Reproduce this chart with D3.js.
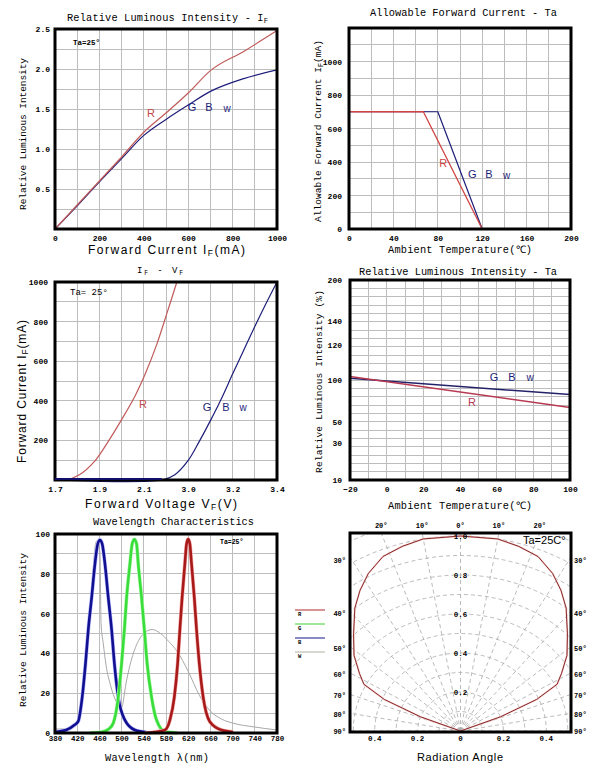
<!DOCTYPE html>
<html><head><meta charset="utf-8">
<script src="https://cdn.jsdelivr.net/npm/d3@7"></script>
<style>body{margin:0;background:#fff}svg{display:block}</style>
</head><body>
<svg id="c" width="596" height="771"></svg>
<script>
// ---------------- DATA ----------------
// Panel 1: Relative Luminous Intensity - IF
const p1Current = [0, 100, 200, 300, 400, 500, 600, 700, 850, 1000];
const p1R       = [0, 0.30, 0.60, 0.90, 1.21, 1.45, 1.70, 1.98, 2.22, 2.48];
const p1GBW     = [0, 0.29, 0.59, 0.88, 1.17, 1.37, 1.55, 1.72, 1.88, 1.99];
const p1XTicks  = [0, 200, 400, 600, 800, 1000];
const p1YTicks  = [0.5, 1.0, 1.5, 2.0, 2.5];

// Panel 2: Allowable Forward Current - Ta
const p2TempR   = [0, 67, 120];
const p2CurR    = [700, 700, 0];
const p2TempGBW = [0, 80, 120];
const p2CurGBW  = [700, 700, 0];
const p2XTicks  = [0, 40, 80, 120, 160, 200];
const p2YTicks  = [0, 200, 400, 600, 800, 1000];

// Panel 3: IF - VF (split voltage axis)
const p3VoltR   = [1.70, 1.745, 1.81, 1.88, 1.94, 2.00, 2.06, 2.11, 2.16, 2.205, 2.249];
const p3CurR    = [0, 0, 27, 97, 195, 305, 423, 545, 690, 845, 1000];
const p3VoltGBW = [2.40, 2.881, 2.94, 3.00, 3.05, 3.10, 3.15, 3.20, 3.25, 3.30, 3.35, 3.40];
const p3CurGBW  = [0, 0, 27, 99, 195, 300, 412, 535, 655, 775, 890, 1000];
const p3XTicksR   = [1.7, 1.9, 2.1];
const p3XTicksGBW = [3.0, 3.2, 3.4];
const p3YTicks  = [200, 400, 600, 800, 1000];

// Panel 4: Relative Luminous Intensity - Ta
const p4Temp    = [-20, 100];
const p4R       = [102, 67];
const p4GBW     = [101, 82.5];
const p4XTicks  = [-20, 0, 20, 40, 60, 80, 100];
const p4YTicks  = [10, 30, 50, 100, 120, 140, 200];

// Panel 5: Wavelength Characteristics
const p5BlueNm  = [380,400,415,422,429,435,440,446,452,457,461,465,470,476,482,487,494,506,524,545];
const p5Blue    = [0.5,1.5,4,6,18,35,52,68,85,95,97,95,85,68,52,35,18,6.5,1.5,0.3];
const p5GreenNm = [443,464,477,485,494,500,505,509,515,519,523,527,530,536,541,546,554,563,578,600];
const p5Green   = [0,0.5,2,5,18,35,52,68,85,95,97.3,95,85,68,52,35,18,6.5,0.7,0];
const p5RedNm   = [542,560,578,587,595,601,605,609,614,617,620,623,626,631,635,640,647,659,680,701];
const p5Red     = [0,0.5,1.5,6.5,18,35,52,68,85,95,97.5,95,85,68,52,35,18,5.7,1.5,0.5];
const p5WhiteNm = [380,400,420,430,440,448,454,458,461,463,467,472,480,490,500,508,515,525,540,555,570,585,600,620,640,660,680,700,740,780];
const p5White   = [2,2,5,18,50,80,96,97,90,55,45,34,24,16,13,25,34,43,50,52,50,46,41,31,19,11,7,5,3,1.5];
const p5XTicks  = [380,420,460,500,540,580,620,660,700,740,780];
const p5YTicks  = [0,20,40,60,80,100];
const p5Legend  = ["R","G","B","W"];

// Panel 6: Radiation pattern (half, mirrored)
const p6Angle   = [0,10,16,22,28,33,38,45,52,58,62,65.5,68.7,90];
const p6Rel     = [1.0,1.0,0.985,0.965,0.915,0.86,0.8,0.705,0.63,0.555,0.51,0.39,0.2,0];
const p6AngleTicks  = [0,10,20,30,40,50,60,70,80,90];
const p6RadTicks    = [0.2,0.4,0.6,0.8,1.0];
const p6BottomTicks = [-0.4,-0.2,0,0.2,0.4];

// ---------------- DRAW ----------------
const MONO = '"Liberation Mono","DejaVu Sans Mono",monospace';
const SANS = '"Liberation Sans",Arial,sans-serif';
const svg = d3.select('#c');
const GRID = '#bdbdbd';
const RED_L = '#c04848', NAVY = '#1e1e7a';

function txt(g, x, y, parts, o = {}) {
  const size = o.size || 10;
  const t = g.append('text').attr('x', x).attr('y', y)
    .attr('font-family', o.font || MONO).attr('font-size', size)
    .attr('fill', o.fill || '#000').attr('text-anchor', o.anchor || 'middle');
  if (o.weight) t.attr('font-weight', o.weight);
  if (o.len) t.attr('textLength', o.len).attr('lengthAdjust', o.adj || 'spacing');
  if (o.rotate) t.attr('transform', `rotate(-90,${x},${y})`);
  if (typeof parts === 'string') parts = [{ t: parts }];
  let shift = 0;
  parts.forEach(p => {
    const s = t.append('tspan').text(p.t);
    if (p.sub) { s.attr('font-size', size * 0.7).attr('dy', 2 - shift); shift = 2; }
    else if (shift) { s.attr('dy', -shift); shift = 0; }
  });
  return t;
}
function grid(g, xs, ys, x0, x1, y0, y1) {
  g.selectAll(null).data(xs).enter().append('line')
    .attr('x1', d => d).attr('x2', d => d).attr('y1', y0).attr('y2', y1)
    .attr('stroke', GRID).attr('stroke-width', 1).attr('shape-rendering', 'crispEdges');
  g.selectAll(null).data(ys).enter().append('line')
    .attr('y1', d => d).attr('y2', d => d).attr('x1', x0).attr('x2', x1)
    .attr('stroke', GRID).attr('stroke-width', 1).attr('shape-rendering', 'crispEdges');
}
function frame(g, x0, y0, x1, y1) {
  g.append('rect').attr('x', x0).attr('y', y0).attr('width', x1 - x0).attr('height', y1 - y0)
    .attr('fill', 'none').attr('stroke', '#000').attr('stroke-width', 3);
}
function styleAxis(a, size) {
  a.select('.domain').remove();
  a.selectAll('text').attr('font-family', MONO).attr('font-size', size || 8)
    .attr('font-weight', 'bold').attr('fill', '#000');
}
function path(g, xs, ys, sx, sy, color, w, curve) {
  const pts = xs.map((v, i) => [v, ys[i]]);
  g.append('path').datum(pts)
    .attr('d', d3.line().x(d => sx(d[0])).y(d => sy(d[1])).curve(curve || d3.curveLinear))
    .attr('fill', 'none').attr('stroke', color).attr('stroke-width', w)
    .attr('stroke-linejoin', 'round');
}

// ===== Panel 1 =====
{
  const g = svg.append('g');
  const X0 = 55, X1 = 277, Y0 = 29, Y1 = 229;
  const x = d3.scaleLinear([0, 1000], [X0, X1]);
  const y = d3.scaleLinear([0, 2.5], [Y1, Y0]);
  grid(g, d3.range(100, 1000, 100).map(x), d3.range(0.25, 2.5, 0.25).map(y), X0, X1, Y0, Y1);
  path(g, p1Current, p1GBW, x, y, NAVY, 1.2, d3.curveMonotoneX);
  path(g, p1Current, p1R, x, y, '#c05a5a', 1.2, d3.curveMonotoneX);
  frame(g, X0, Y0, X1, Y1);
  styleAxis(g.append('g').attr('transform', `translate(${X0},0)`)
    .call(d3.axisLeft(y).tickValues(p1YTicks).tickFormat(d3.format('.1f')).tickSize(0).tickPadding(5)));
  styleAxis(g.append('g').attr('transform', `translate(0,${Y1})`)
    .call(d3.axisBottom(x).tickValues(p1XTicks).tickFormat(d3.format('d')).tickSize(0).tickPadding(6)));
  txt(g, 167.5, 21, [{ t: 'Relative Luminous Intensity - I' }, { t: 'F', sub: true }], { size: 10.3, len: 201 });
  txt(g, 166.5, 254, [{ t: 'Forward Current I' }, { t: 'F', sub: true }, { t: '(mA)' }], { font: SANS, size: 12, len: 157 });
  txt(g, 26, 134, 'Relative Luminous Intensity', { size: 9.5, len: 152, rotate: true });
  txt(g, 73, 45, 'Ta=25°', { size: 7.5, weight: 'bold', anchor: 'start' });
  txt(g, x(432), y(1.40), 'R', { font: SANS, size: 11, fill: RED_L });
  txt(g, x(617), y(1.48), 'G', { font: SANS, size: 11, fill: NAVY });
  txt(g, x(693), y(1.48), 'B', { font: SANS, size: 11, fill: NAVY });
  txt(g, x(775), y(1.46), 'w', { font: SANS, size: 10, fill: NAVY });
}

// ===== Panel 2 =====
{
  const g = svg.append('g');
  const X0 = 349, X1 = 571, Y0 = 28, Y1 = 229;
  const x = d3.scaleLinear([0, 200], [X0, X1]);
  const y = d3.scaleLinear([0, 1200], [Y1, Y0]);
  grid(g, d3.range(20, 200, 20).map(x), d3.range(100, 1200, 100).map(y), X0, X1, Y0, Y1);
  path(g, p2TempGBW, p2CurGBW, x, y, NAVY, 1.2);
  path(g, p2TempR, p2CurR, x, y, '#d04444', 1.3);
  frame(g, X0, Y0, X1, Y1);
  styleAxis(g.append('g').attr('transform', `translate(${X0},0)`)
    .call(d3.axisLeft(y).tickValues(p2YTicks).tickFormat(d3.format('d')).tickSize(0).tickPadding(7)));
  styleAxis(g.append('g').attr('transform', `translate(0,${Y1})`)
    .call(d3.axisBottom(x).tickValues(p2XTicks).tickFormat(d3.format('d')).tickSize(0).tickPadding(6)));
  txt(g, 463.5, 16, 'Allowable Forward Current - Ta', { size: 10.3, len: 187 });
  txt(g, 460, 252.5, 'Ambient Temperature(℃)', { size: 10.3, len: 144 });
  txt(g, 321, 131, [{ t: 'Allowable Forward Current I' }, { t: 'F', sub: true }, { t: '(mA)' }], { size: 9.5, len: 182, rotate: true });
  txt(g, x(85), y(370), 'R', { font: SANS, size: 11, fill: '#d04444' });
  txt(g, x(111), y(305), 'G', { font: SANS, size: 11, fill: NAVY });
  txt(g, x(126), y(305), 'B', { font: SANS, size: 11, fill: NAVY });
  txt(g, x(142), y(298), 'w', { font: SANS, size: 10, fill: NAVY });
}

// ===== Panel 3 =====
{
  const g = svg.append('g');
  const X0 = 55, X1 = 277, Y0 = 282, Y1 = 480;
  const xR = d3.scaleLinear([1.7, 2.7], [X0, X1]);
  const xB = d3.scaleLinear([2.4, 3.4], [X0, X1]);
  const y = d3.scaleLinear([0, 1000], [Y1, Y0]);
  grid(g, d3.range(1, 10).map(i => xR(1.7 + i * 0.1)), d3.range(100, 1000, 100).map(y), X0, X1, Y0, Y1);
  const C = d3.curveCatmullRom.alpha(0.5);
  path(g, p3VoltR, p3CurR, xR, y, '#c05a5a', 1.2, C);
  path(g, p3VoltGBW, p3CurGBW, xB, y, NAVY, 1.2, C);
  frame(g, X0, Y0, X1, Y1);
  g.append('line').attr('x1', xB(2.4)).attr('x2', xB(2.881)).attr('y1', Y1 - 1).attr('y2', Y1 - 1)
    .attr('stroke', '#10106a').attr('stroke-width', 2);
  styleAxis(g.append('g').attr('transform', `translate(${X0},0)`)
    .call(d3.axisLeft(y).tickValues(p3YTicks).tickFormat(d3.format('d')).tickSize(0).tickPadding(7)));
  styleAxis(g.append('g').attr('transform', `translate(0,${Y1})`)
    .call(d3.axisBottom(xR).tickValues(p3XTicksR).tickFormat(d3.format('.1f')).tickSize(0).tickPadding(6)));
  styleAxis(g.append('g').attr('transform', `translate(0,${Y1})`)
    .call(d3.axisBottom(xB).tickValues(p3XTicksGBW).tickFormat(d3.format('.1f')).tickSize(0).tickPadding(6)));
  txt(g, 160, 273, [{ t: 'I' }, { t: 'F', sub: true }, { t: ' - V' }, { t: 'F', sub: true }], { size: 9, len: 46 });
  txt(g, 161, 508, [{ t: 'Forward Voltage V' }, { t: 'F', sub: true }, { t: '(V)' }], { font: SANS, size: 12, len: 152 });
  txt(g, 26, 391.5, [{ t: 'Forward Current I' }, { t: 'F', sub: true }, { t: '(mA)' }], { font: SANS, size: 12, len: 143, rotate: true });
  txt(g, 70, 295, 'Ta= 25°', { size: 9, anchor: 'start' });
  txt(g, 143, 408, 'R', { font: SANS, size: 11, fill: RED_L });
  txt(g, 207, 411, 'G', { font: SANS, size: 11, fill: NAVY });
  txt(g, 226, 411, 'B', { font: SANS, size: 11, fill: NAVY });
  txt(g, 243, 411, 'w', { font: SANS, size: 10, fill: NAVY });
}

// ===== Panel 4 =====
{
  const g = svg.append('g');
  const X0 = 350, X1 = 570, Y0 = 280, Y1 = 480;
  const x = d3.scaleLinear([-20, 100], [X0, X1]);
  const frac = [24, 19.6, 17, 12, 7.8, 4.9, 0];
  const y = d3.scaleLinear(p4YTicks, frac.map(f => Y0 + f / 24 * (Y1 - Y0)));
  grid(g, d3.range(-10, 100, 10).map(x), d3.range(1, 24).map(i => Y0 + i / 24 * (Y1 - Y0)), X0, X1, Y0, Y1);
  path(g, p4Temp, p4GBW, x, y, '#22226a', 1.5);
  path(g, p4Temp, p4R, x, y, '#b83a52', 1.5);
  frame(g, X0, Y0, X1, Y1);
  styleAxis(g.append('g').attr('transform', `translate(${X0},0)`)
    .call(d3.axisLeft(y).tickValues(p4YTicks).tickFormat(d3.format('d')).tickSize(0).tickPadding(8)));
  styleAxis(g.append('g').attr('transform', `translate(0,${Y1})`)
    .call(d3.axisBottom(x).tickValues(p4XTicks).tickFormat(d3.format('d')).tickSize(0).tickPadding(6)));
  txt(g, 458, 274.5, 'Relative Luminous Intensity - Ta', { size: 10.3, len: 198 });
  txt(g, 460, 508.5, 'Ambient Temperature(℃)', { size: 10.3, len: 144 });
  txt(g, 322, 381.5, 'Relative Luminous Intensity (%)', { size: 9.5, len: 183, rotate: true });
  txt(g, 494, 381, 'G', { font: SANS, size: 11, fill: NAVY });
  txt(g, 512, 381, 'B', { font: SANS, size: 11, fill: NAVY });
  txt(g, 530, 381, 'w', { font: SANS, size: 10, fill: NAVY });
  txt(g, 472, 406, 'R', { font: SANS, size: 11, fill: '#b83a52' });
}

// ===== Panel 5 =====
{
  const g = svg.append('g');
  const X0 = 55, X1 = 277, Y0 = 534, Y1 = 733;
  const x = d3.scaleLinear([380, 780], [X0, X1]);
  const y = d3.scaleLinear([0, 100], [Y1, Y0]);
  grid(g, d3.range(420, 780, 40).map(x), d3.range(10, 100, 10).map(y), X0, X1, Y0, Y1);
  const C = d3.curveMonotoneX;
  path(g, p5WhiteNm, p5White, x, y, '#a8a8a8', 1, C);
  const halo = (xs, ys, c) => path(g, xs, ys, x, y, c, 3.8, C);
  halo(p5BlueNm, p5Blue, '#b8b8ff'); path(g, p5BlueNm, p5Blue, x, y, '#101090', 2.6, C);
  halo(p5GreenNm, p5Green, '#b8f8b8'); path(g, p5GreenNm, p5Green, x, y, '#3ade3a', 2.6, C);
  halo(p5RedNm, p5Red, '#f4b0b0'); path(g, p5RedNm, p5Red, x, y, '#a81a1a', 2.6, C);
  frame(g, X0, Y0, X1, Y1);
  styleAxis(g.append('g').attr('transform', `translate(${X0},0)`)
    .call(d3.axisLeft(y).tickValues(p5YTicks).tickFormat(d3.format('d')).tickSize(0).tickPadding(5)));
  styleAxis(g.append('g').attr('transform', `translate(0,${Y1})`)
    .call(d3.axisBottom(x).tickValues(p5XTicks).tickFormat(d3.format('d')).tickSize(0).tickPadding(3)), 7.5);
  txt(g, 173.5, 525, 'Wavelength Characteristics', { size: 10.3, len: 161 });
  txt(g, 157, 761, 'Wavelength λ(nm)', { size: 10.3, len: 104 });
  txt(g, 26, 630, 'Relative Luminous Intensity', { size: 9.5, len: 154, rotate: true });
  txt(g, 220, 544, 'Ta=25°', { size: 6.5, weight: 'bold', anchor: 'start' });
  // legend
  const lc = ['#b02828', '#3ad03a', '#14148a', '#b0b0a0'];
  const ly = d3.scaleLinear([0, 3], [610, 652]);
  const lg = g.append('g');
  lg.selectAll(null).data(p5Legend).enter().append('line')
    .attr('x1', 295).attr('x2', 325).attr('y1', (d, i) => ly(i)).attr('y2', (d, i) => ly(i))
    .attr('stroke', (d, i) => lc[i]).attr('stroke-width', 1);
  lg.selectAll(null).data(p5Legend).enter().append('text')
    .attr('x', 298).attr('y', (d, i) => ly(i) + 5.5).text(d => d)
    .attr('font-family', MONO).attr('font-size', 5.5).attr('font-weight', 'bold');
}

// ===== Panel 6 =====
{
  const g = svg.append('g');
  const X0 = 350, X1 = 571, Y0 = 533, Y1 = 732;
  const ox = (X0 + X1) / 2, oy = Y1 - 1;
  const kx = 1.1;
  const r = d3.scaleLinear([0, 1], [0, 195]);
  const rad = a => a * Math.PI / 180;
  const px = (a, v) => ox + kx * r(v) * Math.sin(rad(a));
  const py = (a, v) => oy - r(v) * Math.cos(rad(a));
  svg.append('clipPath').attr('id', 'pc').append('rect')
    .attr('x', X0).attr('y', Y0).attr('width', X1 - X0).attr('height', Y1 - Y0);
  const gg = g.append('g').attr('clip-path', 'url(#pc)');
  gg.selectAll(null).data(d3.range(0.1, 1.25, 0.1)).enter().append('ellipse')
    .attr('cx', ox).attr('cy', oy).attr('rx', d => kx * r(d)).attr('ry', d => r(d))
    .attr('fill', 'none').attr('stroke', '#aaa').attr('stroke-width', 0.8).attr('stroke-dasharray', '4,3');
  gg.selectAll(null).data(d3.range(-90, 91, 10)).enter().append('line')
    .attr('x1', ox).attr('y1', oy).attr('x2', d => px(d, 1.4)).attr('y2', d => py(d, 1.4))
    .attr('stroke', '#aaa').attr('stroke-width', 0.8).attr('stroke-dasharray', '4,3');
  // curve (mirrored)
  const full = [];
  for (let i = p6Angle.length - 1; i > 0; i--) full.push([-p6Angle[i], p6Rel[i]]);
  for (let i = 0; i < p6Angle.length; i++) full.push([p6Angle[i], p6Rel[i]]);
  const ln = d3.line().x(d => px(d[0], d[1])).y(d => py(d[0], d[1]));
  gg.append('path').datum(full).attr('d', ln).attr('fill', 'none').attr('stroke', '#f6cccc').attr('stroke-width', 1.8);
  gg.append('path').datum(full).attr('d', ln).attr('fill', 'none').attr('stroke', '#7a1616').attr('stroke-width', 0.9);
  frame(g, X0, Y0, X1, Y1);
  // radial labels
  g.selectAll(null).data(p6RadTicks).enter().append('text')
    .attr('x', ox).attr('y', d => oy - r(d) + 3).attr('text-anchor', 'middle')
    .text(d => d3.format('.1f')(d)).attr('font-family', MONO).attr('font-size', 7.5).attr('font-weight', 'bold');
  // bottom labels
  g.selectAll(null).data(p6BottomTicks).enter().append('text')
    .attr('x', d => ox + kx * r(d)).attr('y', Y1 + 9).attr('text-anchor', 'middle')
    .text(d => d3.format('.1f')(Math.abs(d)).replace(/^0\.0$/, '0')).attr('font-family', MONO).attr('font-size', 7.5).attr('font-weight', 'bold');
  // angle labels
  const dyTop = oy - Y0, half = (X1 - X0) / 2 - 2;
  p6AngleTicks.forEach(a => {
    const t = Math.tan(rad(a)) * kx;
    if (a === 0 || dyTop * t <= half) {
      [-1, 1].forEach(s => {
        if (a === 0 && s < 0) return;
        txt(g, ox + s * dyTop * t, Y0 - 5, a + '°', { size: 7, weight: 'bold' });
      });
    } else {
      const yy = a === 90 ? oy : oy - half / t;
      txt(g, X0 - 4, yy + 3, a + '°', { size: 7, weight: 'bold', anchor: 'end' });
      txt(g, X1 + 3, yy + 3, a + '°', { size: 7, weight: 'bold', anchor: 'start' });
    }
  });
  txt(g, 523, 544, 'Ta=25C°', { font: SANS, size: 11, anchor: 'start' });
  txt(g, 460, 761, 'Radiation Angle', { font: SANS, size: 11, len: 86 });
}
</script>
</body></html>
